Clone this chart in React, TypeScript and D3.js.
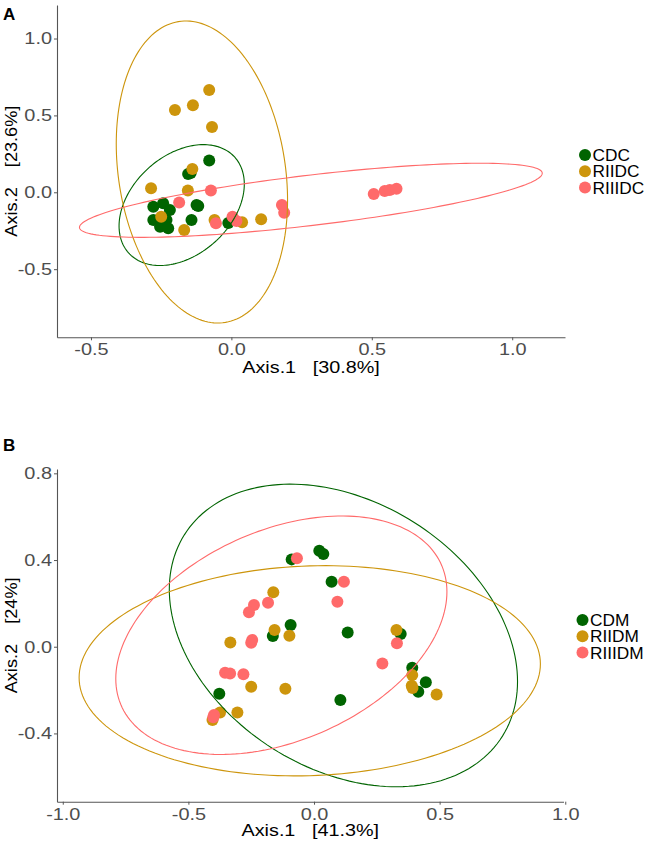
import React from "react";
import * as d3 from "d3";

const width = 654;
const height = 843;
const font = "'Liberation Sans', Arial, sans-serif";

const colors = ["#006400", "#CD950C", "#FF6A6A"];

// panel A: points per group [axis1, axis2]
const namesA = ["CDC", "RIIDC", "RIIIDC"];
const cdcA = [
  [-0.079, 0.206], [-0.154, 0.119], [-0.145, 0.125], [-0.278, -0.094], [-0.243, -0.072],
  [-0.219, -0.115], [-0.118, -0.089], [-0.124, -0.083], [-0.278, -0.18], [-0.254, -0.224],
  [-0.231, -0.18], [-0.225, -0.234], [-0.142, -0.18], [-0.011, -0.2],
];
const riidcA = [
  [-0.079, 0.665], [-0.201, 0.535], [-0.137, 0.566], [-0.069, 0.425], [-0.139, 0.151],
  [-0.286, 0.026], [-0.155, 0.011], [-0.25, -0.159], [-0.168, -0.245], [-0.06, -0.18],
  [0.038, -0.195], [0.106, -0.176],
];
const riiidcA = [
  [-0.073, 0.011], [-0.186, -0.067], [-0.055, -0.202], [0.004, -0.159], [0.018, -0.186],
  [0.18, -0.083], [0.188, -0.133], [0.507, -0.011], [0.546, 0.008], [0.564, 0.015], [0.588, 0.023],
];
// ellipse: centre, spread along each axis, correlation
const ellipsesA = [
  { cx: -0.177, cy: -0.083, sx: 0.223, sy: 0.393, rho: 0.347 },
  { cx: -0.105, cy: 0.132, sx: 0.305, sy: 0.982, rho: -0.186 },
  { cx: 0.283, cy: -0.052, sx: 0.824, sy: 0.241, rho: 0.73 },
];

// panel B
const namesB = ["CDM", "RIIDM", "RIIIDM"];
const cdmB = [
  [-0.089, 0.403], [0.021, 0.443], [0.037, 0.428], [0.07, 0.3], [-0.093, 0.1],
  [-0.164, 0.049], [0.134, 0.066], [-0.377, -0.217], [0.105, -0.246], [0.345, 0.059],
  [0.391, -0.097], [0.445, -0.164], [0.415, -0.208],
];
const riidmB = [
  [-0.162, 0.251], [-0.157, 0.077], [-0.098, 0.051], [-0.333, 0.02], [-0.25, -0.185],
  [-0.114, -0.194], [-0.305, -0.303], [-0.374, -0.303], [-0.404, -0.338], [0.328, 0.077],
  [0.391, -0.131], [0.389, -0.18], [0.392, -0.19], [0.488, -0.22],
];
const riiidmB = [
  [-0.068, 0.408], [0.119, 0.3], [0.093, 0.208], [-0.183, 0.203], [-0.239, 0.192],
  [-0.259, 0.159], [-0.246, 0.031], [-0.25, 0.018], [-0.354, -0.12], [-0.334, -0.123],
  [-0.281, -0.127], [-0.398, -0.315], [-0.401, -0.325], [0.33, 0.016], [0.272, -0.077],
];
const ellipsesB = [
  { cx: 0.117, cy: 0.052, sx: 0.693, sy: 0.698, rho: -0.304 },
  { cx: -0.017, cy: -0.111, sx: 0.918, sy: 0.485, rho: 0.065 },
  { cx: -0.13, cy: 0.053, sx: 0.659, sy: 0.55, rho: 0.365 },
];

const ticksAx = [-0.5, 0, 0.5, 1.0];
const ticksAy = [-0.5, 0, 0.5, 1.0];
const ticksBx = [-1.0, -0.5, 0, 0.5, 1.0];
const ticksBy = [-0.4, 0, 0.4, 0.8];

function Txt({ x, y, sx = 1.2, rot = 0, children, ...rest }) {
  return (
    <text transform={`translate(${x},${y}) rotate(${rot}) scale(${sx},1)`} fontFamily={font} {...rest}>
      {children}
    </text>
  );
}

function Panel({ tag, tagY, xDomain, yDomain, xRange, yRange, xTicks, yTicks, groups, ellipses, names, legX, legY, xTitle, xTitleY, yTitle }) {
  const xAxisRef = React.useRef(null);
  const yAxisRef = React.useRef(null);
  const xScale = d3.scaleLinear().domain(xDomain).range(xRange);
  const yScale = d3.scaleLinear().domain(yDomain).range(yRange);

  React.useEffect(() => {
    const fmt = d => d.toFixed(1);
    const xa = d3.axisBottom(xScale).tickValues(xTicks).tickFormat(fmt).tickSize(3).tickSizeOuter(0).tickPadding(3);
    const ya = d3.axisLeft(yScale).tickValues(yTicks).tickFormat(fmt).tickSize(3).tickSizeOuter(0).tickPadding(2);
    for (const [ref, ax, left] of [[xAxisRef, xa, false], [yAxisRef, ya, true]]) {
      const g = d3.select(ref.current);
      g.call(ax);
      g.select(".domain").attr("stroke", "#555").attr("stroke-width", 1.1);
      g.selectAll(".tick line").attr("stroke", "#555");
      const t = g.selectAll(".tick text")
        .attr("fill", "#4d4d4d")
        .attr("font-size", 17)
        .attr("font-family", font)
        .attr("transform", "scale(1.17,1)");
      if (left) t.attr("x", -5 / 1.17);
    }
  }, []);

  const line = d3.line().x(d => xScale(d[0])).y(d => yScale(d[1])).curve(d3.curveLinearClosed);
  const ellipsePts = e => d3.range(0, 2 * Math.PI, Math.PI / 90).map(t => [
    e.cx + e.sx * Math.cos(t),
    e.cy + e.sy * (e.rho * Math.cos(t) + Math.sqrt(1 - e.rho * e.rho) * Math.sin(t)),
  ]);

  return (
    <g>
      <text x={3} y={tagY} fontFamily={font} fontWeight="bold" fontSize={17}>{tag}</text>
      {groups.map((pts, i) => (
        <g key={i} fill={colors[i]}>
          {pts.map((d, j) => <circle key={j} cx={xScale(d[0])} cy={yScale(d[1])} r={6} />)}
        </g>
      ))}
      {ellipses.map((e, i) => (
        <path key={i} d={line(ellipsePts(e))} fill="none" stroke={colors[i]} strokeWidth={1.1} />
      ))}
      <g ref={xAxisRef} transform={`translate(0,${yRange[0]})`} />
      <g ref={yAxisRef} transform={`translate(${xRange[0]},0)`} />
      <Txt x={(xRange[0] + xRange[1]) / 2} y={xTitleY} textAnchor="middle" fontSize={16.5}>{xTitle}</Txt>
      <Txt x={17} y={(yRange[0] + yRange[1]) / 2} rot={-90} sx={1.1} textAnchor="middle" fontSize={16.5}>{yTitle}</Txt>
      {names.map((n, i) => (
        <g key={n}>
          <circle cx={legX} cy={legY + i * 16.3} r={6} fill={colors[i]} />
          <Txt x={legX + 7.5} y={legY + i * 16.3 + 6} sx={1.08} fontSize={16}>{n}</Txt>
        </g>
      ))}
    </g>
  );
}

export default function App() {
  return (
    <svg width={width} height={height} style={{ position: "absolute", left: 0, top: 0, background: "#fff" }}>
      <rect width={width} height={height} fill="#fff" />
      <Panel
        tag="A" tagY={20}
        xDomain={[-0.621, 1.188]} yDomain={[-0.943, 1.218]}
        xRange={[57, 565]} yRange={[337.3, 5]}
        xTicks={ticksAx} yTicks={ticksAy}
        groups={[cdcA, riidcA, riiidcA]} ellipses={ellipsesA} names={namesA}
        legX={585} legY={155}
        xTitle={"Axis.1\u00a0\u00a0\u00a0[30.8%]"} xTitleY={372.5}
        yTitle={"Axis.2\u00a0\u00a0\u00a0\u00a0[23.6%]"}
      />
      <Panel
        tag="B" tagY={451}
        xDomain={[-1.023, 0.993]} yDomain={[-0.715, 0.82]}
        xRange={[57, 563.5]} yRange={[801.7, 469]}
        xTicks={ticksBx} yTicks={ticksBy}
        groups={[cdmB, riidmB, riiidmB]} ellipses={ellipsesB} names={namesB}
        legX={582.5} legY={620}
        xTitle={"Axis.1\u00a0\u00a0\u00a0[41.3%]"} xTitleY={836}
        yTitle={"Axis.2\u00a0\u00a0\u00a0\u00a0[24%]"}
      />
    </svg>
  );
}
